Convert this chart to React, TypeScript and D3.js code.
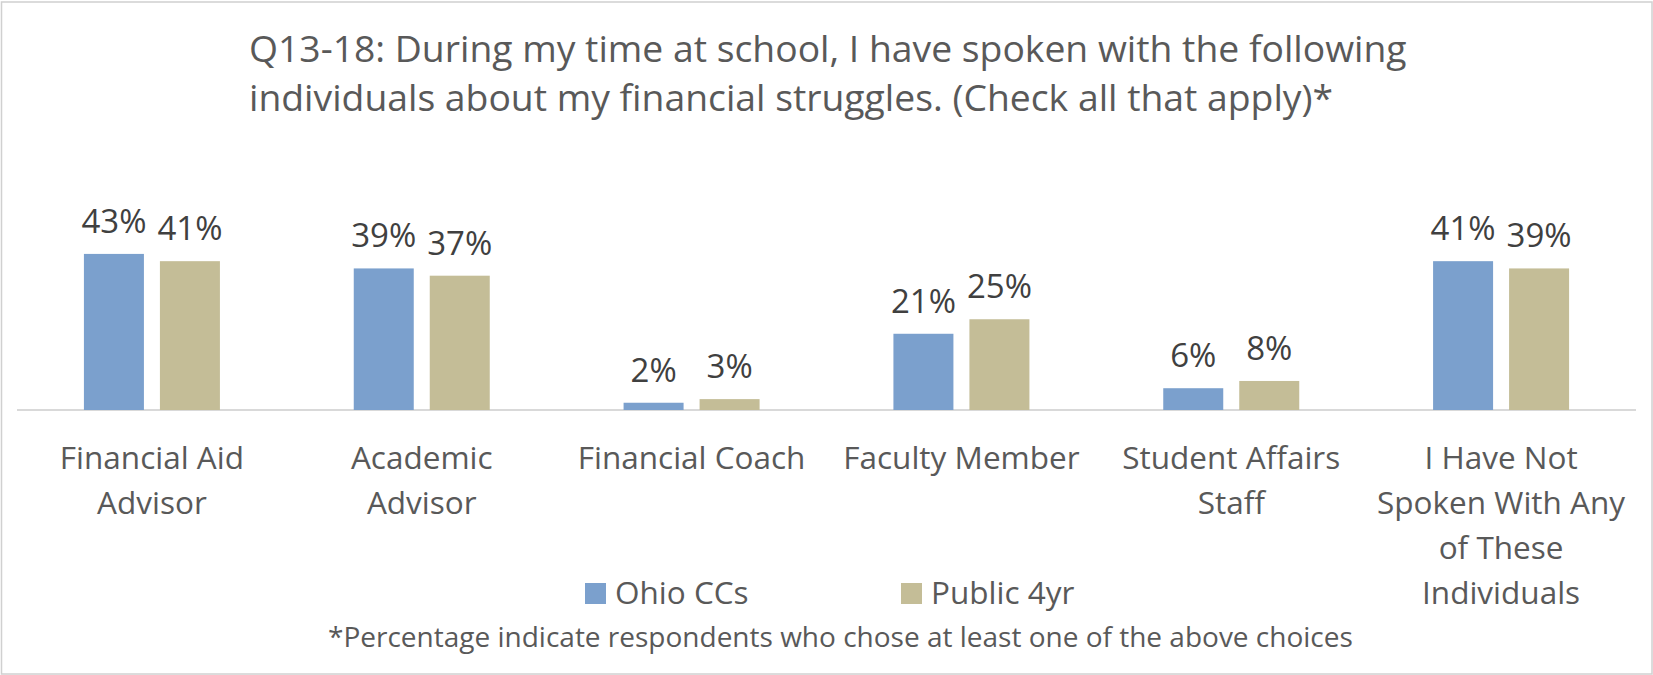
import React from "react";
import * as d3 from "d3";

const categories: string[][] = [
  ["Financial Aid", "Advisor"],
  ["Academic", "Advisor"],
  ["Financial Coach"],
  ["Faculty Member"],
  ["Student Affairs", "Staff"],
  ["I Have Not", "Spoken With Any", "of These", "Individuals"],
];
const seriesNames = ["Ohio CCs", "Public 4yr"];
const ohioCCs = [43, 39, 2, 21, 6, 41];
const public4yr = [41, 37, 3, 25, 8, 39];
const titleLines = [
  "Q13-18: During my time at school, I have spoken with the following",
  "individuals about my financial struggles. (Check all that apply)*",
];
const footnote = "*Percentage indicate respondents who chose at least one of the above choices";

const W = 1653;
const H = 675;
const COLORS = ["#7BA0CD", "#C4BD97"];
const FONT = "'Open Sans', sans-serif";

export default function App() {
  const idx = categories.map((_, i) => i);
  const x0 = d3.scaleBand<number>().domain(idx).range([17, 1636]).padding(0);
  const groupW = 136;
  const x1 = d3
    .scaleBand<number>()
    .domain([0, 1])
    .range([0, groupW])
    .paddingInner(16 / 76)
    .paddingOuter(0);
  const y = d3.scaleLinear().domain([0, 50]).range([410, 228.5]);
  const series = [ohioCCs, public4yr];
  const legendX = [585, 901];

  return (
    <div style={{ position: "absolute", left: 0, top: 0 }}>
      <svg width={W} height={H} style={{ display: "block", background: "#fff" }}>
        <rect x={1.5} y={2} width={1650.5} height={672} fill="#fff" stroke="#D0D0D0" strokeWidth={1.5} />
        <g fontFamily={FONT} fill="#595959">
          {titleLines.map((t, i) => (
            <text key={i} x={249} y={62 + i * 49} fontSize={37.3}>
              {t}
            </text>
          ))}
        </g>
        <line x1={17} x2={1636} y1={y(0)} y2={y(0)} stroke="#D9D9D9" strokeWidth={2} />
        {idx.map((ci) => {
          const gx = (x0(ci) as number) + x0.bandwidth() / 2 - groupW / 2;
          return (
            <g key={ci}>
              {series.map((s, si) => {
                const bx = gx + (x1(si) as number);
                const v = s[ci];
                return (
                  <g key={si}>
                    <rect x={bx} y={y(v)} width={x1.bandwidth()} height={y(0) - y(v)} fill={COLORS[si]} />
                    <text
                      x={bx + x1.bandwidth() / 2}
                      y={y(v) - 21}
                      textAnchor="middle"
                      fontFamily={FONT}
                      fontSize={33}
                      fill="#404040"
                    >
                      {v}%
                    </text>
                  </g>
                );
              })}
              {categories[ci].map((line, li) => (
                <text
                  key={li}
                  x={(x0(ci) as number) + x0.bandwidth() / 2}
                  y={469 + li * 45}
                  textAnchor="middle"
                  fontFamily={FONT}
                  fontSize={31.5}
                  fill="#595959"
                >
                  {line}
                </text>
              ))}
            </g>
          );
        })}
        <g fontFamily={FONT} fill="#595959" fontSize={31.5}>
          {seriesNames.map((n, i) => (
            <g key={n}>
              <rect x={legendX[i]} y={583} width={21} height={21} fill={COLORS[i]} />
              <text x={legendX[i] + 30} y={604}>
                {n}
              </text>
            </g>
          ))}
        </g>
        <text x={328} y={647} fontFamily={FONT} fontSize={28} fill="#595959">
          {footnote}
        </text>
      </svg>
    </div>
  );
}
